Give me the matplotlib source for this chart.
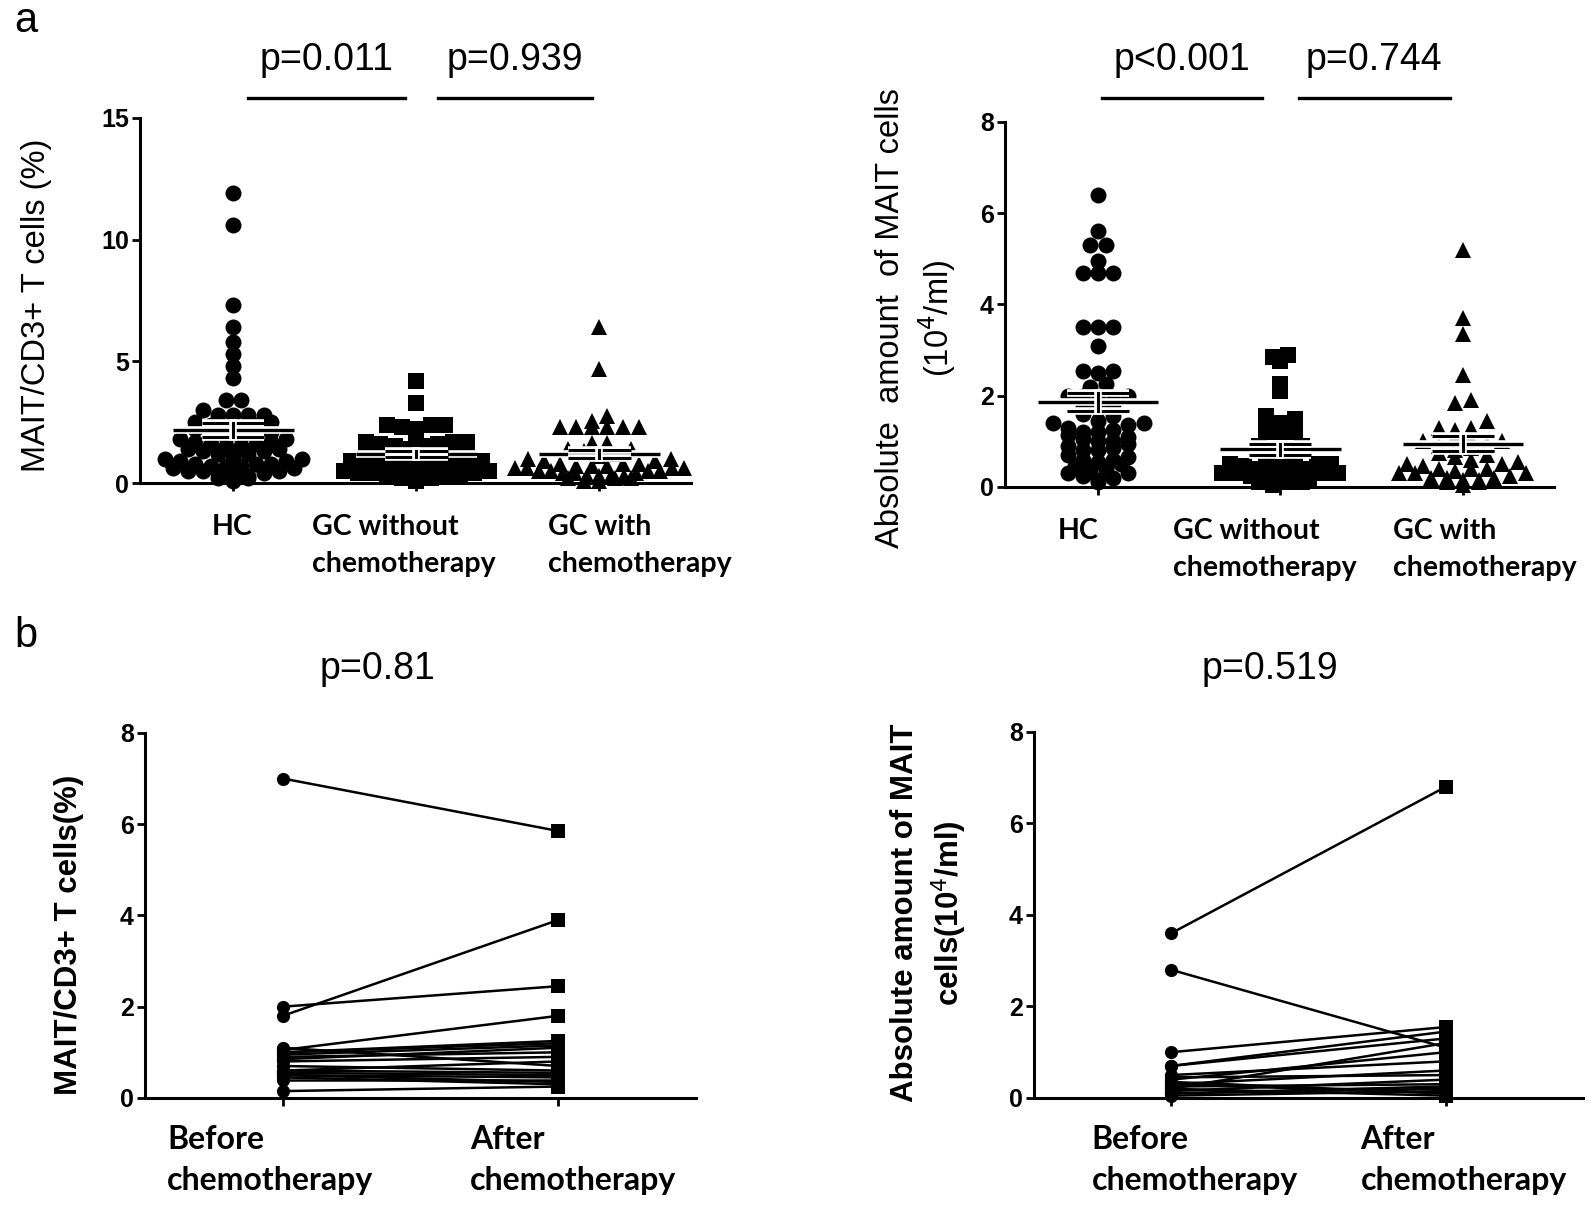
import matplotlib
matplotlib.use("Agg")
import matplotlib.pyplot as plt
import matplotlib.patheffects as pe
import numpy as np

# ---- data ----
groups = ["HC", "GC without\nchemotherapy", "GC with\nchemotherapy"]

hc_pct = [11.9, 10.6, 7.3, 6.4, 5.8, 5.3, 4.8, 4.3, 3.4, 3.4, 3.0, 2.8, 2.8, 2.8, 2.8,
          2.5, 2.5, 2.4, 2.4, 2.3, 2.3, 2.2, 2.1, 2.0, 2.0, 1.9, 1.9, 1.8, 1.8, 1.7, 1.7,
          1.6, 1.6, 1.5, 1.5, 1.4, 1.4, 1.3, 1.3, 1.2, 1.2, 1.1, 1.0, 1.0, 0.9, 0.9, 0.8,
          0.8, 0.8, 0.7, 0.7, 0.7, 0.6, 0.6, 0.5, 0.5, 0.5, 0.4, 0.4, 0.3, 0.3, 0.2, 0.2, 0.1]
gcwo_pct = [4.2, 3.3, 2.4, 2.4, 2.3, 2.2, 2.4, 1.8, 1.7, 1.7, 1.7, 1.6, 1.6, 1.5, 1.5, 1.4,
            1.3, 1.3, 1.2, 1.2, 1.1, 1.1, 1.0, 1.0, 0.9, 0.9, 0.9, 0.8, 0.8, 0.7, 0.7, 0.7,
            0.6, 0.6, 0.5, 0.5, 0.4, 0.4, 0.3, 0.3, 0.2, 0.2, 0.1, 0.3, 0.4, 0.2]
gcw_pct = [6.4, 4.7, 2.75, 2.55, 2.3, 2.3, 2.3, 2.3, 2.3, 2.3, 1.65, 1.65, 1.4, 1.4, 1.3,
           1.2, 1.1, 1.0, 1.0, 0.9, 0.9, 0.8, 0.8, 0.8, 0.7, 0.7, 0.7, 0.6, 0.6, 0.6,
           0.5, 0.5, 0.5, 0.4, 0.4, 0.3, 0.3, 0.2, 0.2, 0.1, 0.1, 0.3, 0.4, 0.5, 0.2, 0.6, 0.3]

hc_abs = [6.4, 5.6, 5.3, 5.3, 4.95, 4.7, 4.7, 4.7, 3.5, 3.5, 3.5, 3.1, 2.55, 2.55, 2.5,
          2.25, 2.2, 2.0, 2.0, 2.0, 1.9, 1.9, 1.8, 1.75, 1.7, 1.6, 1.55, 1.45, 1.4, 1.4,
          1.35, 1.3, 1.25, 1.2, 1.2, 1.15, 1.1, 1.05, 1.0, 1.0, 0.95, 0.9, 0.85, 0.8, 0.8,
          0.7, 0.65, 0.6, 0.6, 0.55, 0.5, 0.45, 0.4, 0.35, 0.3, 0.3, 0.25, 0.2, 0.15, 0.1]
gcwo_abs = [2.9, 2.85, 2.75, 2.25, 2.1, 1.55, 1.5, 1.4, 1.2, 1.2, 1.2, 0.9, 0.9, 0.8, 0.75,
            0.7, 0.6, 0.55, 0.5, 0.5, 0.45, 0.4, 0.4, 0.35, 0.3, 0.3, 0.3, 0.25, 0.2, 0.2,
            0.2, 0.15, 0.1, 0.1, 0.1, 0.05, 0.3, 0.4, 0.5]
gcw_abs = [5.2, 3.7, 3.35, 2.45, 1.9, 1.85, 1.45, 1.3, 1.3, 1.25, 1.1, 1.05, 1.0, 1.0, 0.95,
           0.9, 0.85, 0.8, 0.75, 0.7, 0.65, 0.6, 0.55, 0.5, 0.45, 0.4, 0.4, 0.35, 0.3, 0.3,
           0.25, 0.2, 0.2, 0.15, 0.1, 0.1, 0.05, 0.3, 0.2, 0.4, 0.5, 0.15]

pair_labels = ["Before\nchemotherapy", "After\nchemotherapy"]
before_pct = [7.0, 1.8, 2.0, 1.05, 1.0, 1.0, 0.95, 0.85, 0.9, 0.8, 0.7, 0.6, 0.55, 0.5, 0.5, 0.45, 0.4, 0.15, 0.6, 1.1]
after_pct = [5.85, 3.9, 2.45, 1.8, 1.2, 1.25, 1.15, 1.1, 1.0, 0.9, 0.6, 0.8, 0.5, 0.45, 0.35, 0.3, 0.4, 0.25, 0.55, 0.7]
before_abs = [3.6, 2.8, 1.0, 0.7, 0.7, 0.4, 0.5, 0.3, 0.2, 0.1, 0.3, 0.25, 0.15, 0.05, 0.35, 0.1, 0.45, 0.2]
after_abs = [6.8, 1.1, 1.55, 1.45, 1.3, 1.0, 0.8, 0.6, 1.2, 0.2, 0.1, 0.3, 0.4, 0.15, 0.1, 0.25, 0.5, 0.05]

TICKFONT = ["Liberation Sans Narrow", "Liberation Sans", "DejaVu Sans"]
ARIAL = ["Liberation Sans", "DejaVu Sans"]
XFONT = ["Lato", "DejaVu Sans"]

fig = plt.figure(figsize=(15.94, 12.06), dpi=100)


def style_axes(ax, yticks):
    for s in ["top", "right"]:
        ax.spines[s].set_visible(False)
    for s in ["left", "bottom"]:
        ax.spines[s].set_linewidth(2.2)
    ax.spines["left"].set_bounds(yticks[0], yticks[-1])
    ax.set_yticks(yticks)
    ax.tick_params(axis="y", length=6, width=2, pad=2)
    ax.tick_params(axis="x", length=6, width=2, labelbottom=False)
    for t in ax.get_yticklabels():
        t.set_family(TICKFONT)
        t.set_fontweight("bold")
        t.set_fontsize(18)


def xlabels(ax, labels, xs, y, size):
    tr = ax.get_xaxis_transform()
    for lab, x in zip(labels, xs):
        ax.text(x, y, lab, transform=tr, ha="left", va="top", family=XFONT,
                fontweight="bold", fontsize=size, linespacing=1.5, multialignment="left")


def swarm(ax, center, vals, size_pt, row_frac=0.62, sp_frac=0.95, max_half=0.46):
    # Prism-like row swarm: bin values into rows, spread each row sideways
    d = size_pt * fig.dpi / 72.0
    vals = np.asarray(vals, float)
    pix = ax.transData.transform(np.column_stack([np.full(len(vals), center), vals]))
    y0 = ax.transData.transform((center, 0))[1]
    px_unit = ax.transData.transform((center + 1, 0))[0] - pix[0, 0]
    rows = np.round((pix[:, 1] - y0) / (d * row_frac)).astype(int)
    offs = np.zeros(len(vals))
    for r in np.unique(rows):
        idx = np.where(rows == r)[0]
        idx = idx[np.argsort(vals[idx], kind="stable")]
        n = len(idx)
        if n == 1:
            continue
        sp = d * sp_frac
        if (n - 1) * sp / 2 > max_half * px_unit:
            sp = 2 * max_half * px_unit / (n - 1)
        slots = (np.arange(n) - (n - 1) / 2) * sp
        order = sorted(range(n), key=lambda k: (abs(slots[k]), slots[k] * ((-1) ** r)))
        for j, k in enumerate(order):
            offs[idx[j]] = slots[k]
    return center + offs / px_unit


def mean_sem(ax, center, vals):
    v = np.asarray(vals, float)
    m = v.mean()
    s = v.std(ddof=1) / np.sqrt(len(v))
    fx = [pe.Stroke(linewidth=5.5, foreground="white"), pe.Normal()]
    ax.plot([center - 0.33, center + 0.33], [m, m], color="black", lw=2.4, zorder=5,
            path_effects=fx, solid_capstyle="butt")
    for yy in (m - s, m + s):
        ax.plot([center - 0.17, center + 0.17], [yy, yy], color="black", lw=2.2, zorder=5,
                path_effects=fx, solid_capstyle="butt")
    ax.plot([center, center], [m - s, m + s], color="black", lw=2.2, zorder=5, path_effects=fx)


def dot_panel(rect, datasets, ylim, yticks, ylabel_pos, ylabel, pvals, plines, ptext_y,
              pline_y, label_x):
    ax = fig.add_axes(rect)
    ax.set_xlim(-0.51, 2.5)
    ax.set_ylim(*ylim)
    style_axes(ax, yticks)
    ax.set_xticks(range(3))
    xlabels(ax, groups, label_x, -0.085, 20.5)
    markers = ["o", "s", "^"]
    sizes = [11.5, 11.0, 12.0]
    for i, vals in enumerate(datasets):
        xs = swarm(ax, i, vals, sizes[i])
        ax.plot(xs, vals, linestyle="none", marker=markers[i], ms=sizes[i], color="black",
                markeredgewidth=0, clip_on=False, zorder=3)
        mean_sem(ax, i, vals)
    tr = ax.get_xaxis_transform()
    for txt, (x0, x1) in zip(pvals, plines):
        ax.plot([x0, x1], [pline_y, pline_y], color="black", lw=2.4, transform=tr, clip_on=False)
        ax.text((x0 + x1) / 2, ptext_y, txt, transform=tr, ha="center", va="center",
                fontsize=27, family=ARIAL)
    fig.text(ylabel_pos[0], ylabel_pos[1], ylabel, rotation=90, ha="center", va="center",
             fontsize=23.5, family=ARIAL, linespacing=1.3)
    return ax


def pair_panel(rect, before, after, ylabel_pos, ylabel, ptxt, ppos, label_x):
    ax = fig.add_axes(rect)
    ax.set_xlim(-0.5, 1.5)
    ax.set_ylim(0, 8)
    style_axes(ax, [0, 2, 4, 6, 8])
    ax.set_xticks([0, 1])
    xlabels(ax, pair_labels, label_x, -0.075, 23)
    for b, a in zip(before, after):
        ax.plot([0, 1], [b, a], color="black", lw=1.8, zorder=2, clip_on=False)
    ax.plot(np.zeros(len(before)), before, "o", ms=9.5, color="black", mew=0, clip_on=False, zorder=3)
    ax.plot(np.ones(len(after)), after, "s", ms=9.5, color="black", mew=0, clip_on=False, zorder=3)
    fig.text(ylabel_pos[0], ylabel_pos[1], ylabel, rotation=90, ha="center", va="center",
             fontsize=22.5, family=ARIAL, fontweight="bold", linespacing=1.3)
    fig.text(ppos[0], ppos[1], ptxt, ha="center", va="center", fontsize=27, family=ARIAL)
    return ax


dot_panel([0.0878, 0.5995, 0.3457, 0.3027], [hc_pct, gcwo_pct, gcw_pct], (0, 15),
          [0, 5, 10, 15], (0.0226, 0.747), "MAIT/CD3+ T cells (%)",
          ["p=0.011", "p=0.939"], [(0.08, 0.94), (1.12, 1.96)], 1.159, 1.055,
          [-0.12, 0.43, 1.72])
dot_panel([0.6305, 0.5962, 0.3444, 0.3027], [hc_abs, gcwo_abs, gcw_abs], (0, 8),
          [0, 2, 4, 6, 8], (0.575, 0.736), "Absolute  amount  of MAIT cells\n(10$^{4}$/ml)",
          ["p<0.001", "p=0.744"], [(0.02, 0.90), (1.10, 1.93)], 1.17, 1.066,
          [-0.22, 0.41, 1.62])

pair_panel([0.0910, 0.0896, 0.3457, 0.3027], before_pct, after_pct, (0.0433, 0.2247),
           "MAIT/CD3+ T cells(%)", "p=0.81", (0.237, 0.445), [-0.42, 0.68])
pair_panel([0.6487, 0.0896, 0.3444, 0.3035], before_abs, after_abs, (0.583, 0.243),
           "Absolute amount of MAIT\ncells(10$^{4}$/ml)", "p=0.519", (0.797, 0.445), [-0.29, 0.69])

fig.text(0.009, 1 - 21 / 1206, "a", fontsize=30, family=ARIAL, ha="left", va="center")
fig.text(0.009, 1 - 636 / 1206, "b", fontsize=30, family=ARIAL, ha="left", va="center")

fig.savefig("out.png", dpi=100, facecolor="white")
